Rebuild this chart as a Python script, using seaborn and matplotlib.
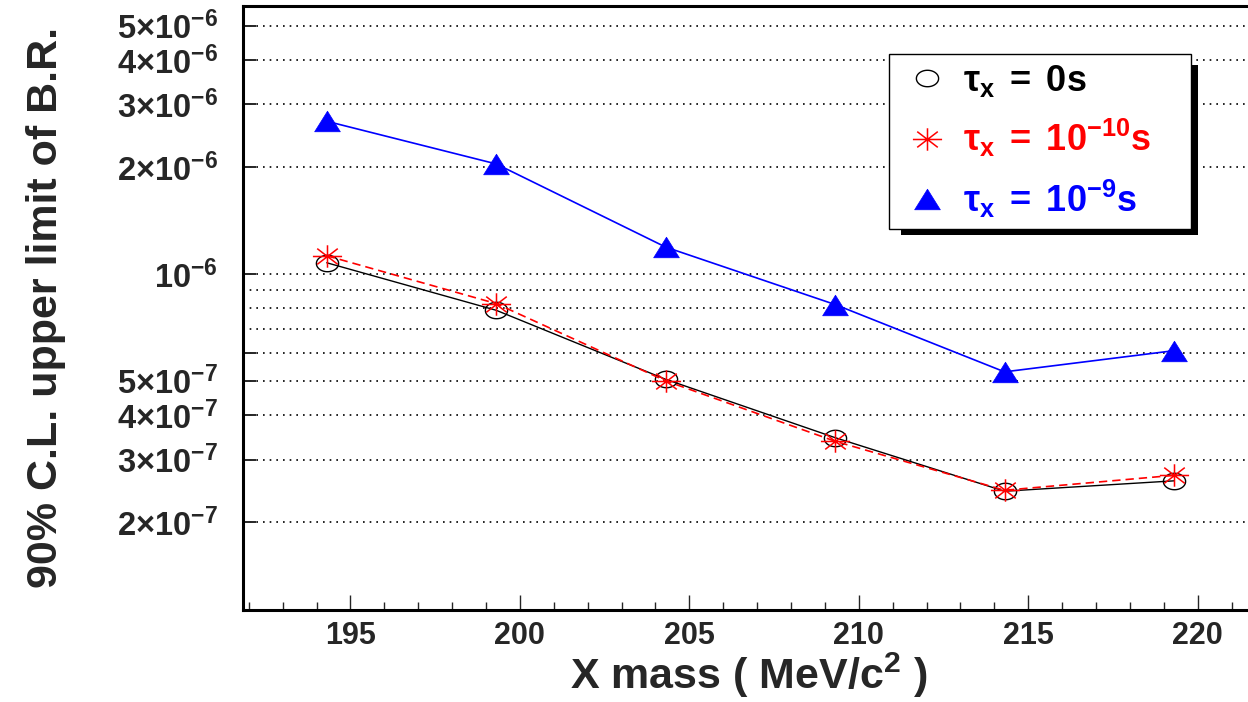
import numpy as np
import pandas as pd
import seaborn as sns
import matplotlib
matplotlib.use("Agg")
import matplotlib.pyplot as plt
from matplotlib.path import Path
from matplotlib.lines import Line2D
from matplotlib.patches import Rectangle
from matplotlib.transforms import IdentityTransform
from matplotlib.ticker import FixedLocator, FixedFormatter, NullFormatter

# ---------------- data ----------------
mass = [194.3, 199.3, 204.3, 209.3, 214.3, 219.3]
limit_tau0 = [1.075e-6, 7.9e-7, 5.05e-7, 3.46e-7, 2.445e-7, 2.615e-7]
limit_tau1e10 = [1.125e-6, 8.25e-7, 5.0e-7, 3.38e-7, 2.46e-7, 2.71e-7]
limit_tau1e9 = [2.69e-6, 2.04e-6, 1.19e-6, 8.2e-7, 5.3e-7, 6.08e-7]
series_labels = [r"$\tau_{x}\;=\;0s$", r"$\tau_{x}\;=\;10^{-10}s$", r"$\tau_{x}\;=\;10^{-9}s$"]
series_colors = ["black", "red", "blue"]

ytick_values = [2e-7, 3e-7, 4e-7, 5e-7, 6e-7, 1e-6, 2e-6, 3e-6, 4e-6, 5e-6]
ytick_labels = [r"$2{\times}10^{-7}$", r"$3{\times}10^{-7}$", r"$4{\times}10^{-7}$",
                r"$5{\times}10^{-7}$", "", r"$10^{-6}$", r"$2{\times}10^{-6}$",
                r"$3{\times}10^{-6}$", r"$4{\times}10^{-6}$", r"$5{\times}10^{-6}$"]
yminor_values = [7e-7, 8e-7, 9e-7]
xtick_values = [195, 200, 205, 210, 215, 220]
xminor_values = [192, 193, 194, 196, 197, 198, 199, 201, 202, 203, 204, 206, 207, 208, 209,
                 211, 212, 213, 214, 216, 217, 218, 219, 221]

# ---------------- style ----------------
sns.set_style("ticks")
plt.rcParams["font.family"] = ["Liberation Sans", "DejaVu Sans"]
plt.rcParams["font.weight"] = "bold"
plt.rcParams["mathtext.fontset"] = "custom"
plt.rcParams["mathtext.rm"] = "Liberation Sans:bold"
plt.rcParams["mathtext.it"] = "Liberation Sans:bold"
plt.rcParams["mathtext.bf"] = "Liberation Sans:bold"
plt.rcParams["mathtext.sf"] = "Liberation Sans:bold"

W, H = 1248, 702
fig = plt.figure(figsize=(W / 100, H / 100), dpi=100)
fig.patch.set_facecolor("white")
left_px, right_px, top_px, bottom_px = 243.3, 1248, 5.7, 610
ax = fig.add_axes([left_px / W, 1 - bottom_px / H, (right_px - left_px) / W, (bottom_px - top_px) / H])
ax.set_facecolor("white")

# custom markers (the reference is horizontally stretched)
t = np.linspace(0, 2 * np.pi, 73)
ellipse = Path(np.c_[np.cos(t), 0.74 * np.sin(t)])
ast_v = [(-1, 0), (1, 0), (0, -0.77), (0, 0.77), (-0.705, -0.54), (0.705, 0.54), (-0.705, 0.54), (0.705, -0.54)]
ast_c = [Path.MOVETO, Path.LINETO] * 4
asterisk = Path(ast_v, ast_c)
tri = Path([(0, 0.8), (-1, -0.8), (1, -0.8), (0, 0.8)], closed=True)

marker_kw = [
    dict(marker=ellipse, markersize=16, mfc="none", mec="black", mew=1.0),
    dict(marker=asterisk, markersize=21, mfc="none", mec="red", mew=1.1),
    dict(marker=tri, markersize=18.5, mfc="blue", mec="blue", mew=0.5),
]

df = pd.DataFrame({"mass": mass, "tau0": limit_tau0, "tau1e10": limit_tau1e10, "tau1e9": limit_tau1e9})

sns.lineplot(data=df, x="mass", y="tau0", ax=ax, color="black", lw=1.0, zorder=3, **marker_kw[0])
sns.lineplot(data=df, x="mass", y="tau1e10", ax=ax, color="red", lw=1.2, ls=(0, (5, 3)), zorder=4, **marker_kw[1])
sns.lineplot(data=df, x="mass", y="tau1e9", ax=ax, color="blue", lw=1.2, zorder=4, **marker_kw[2])

ax.set_yscale("log")
ax.set_xlim(191.837, 221.484)
ax.set_ylim(1.132e-7, 5.69e-6)

ax.yaxis.set_major_locator(FixedLocator(ytick_values))
ax.yaxis.set_major_formatter(FixedFormatter(ytick_labels))
ax.yaxis.set_minor_locator(FixedLocator(yminor_values))
ax.yaxis.set_minor_formatter(NullFormatter())
ax.xaxis.set_major_locator(FixedLocator(xtick_values))
ax.xaxis.set_minor_locator(FixedLocator(xminor_values))

ax.tick_params(axis="y", which="major", direction="in", length=9.4, width=1.4, labelsize=23.5, pad=18,
               left=True, right=False)
ax.tick_params(axis="y", which="minor", length=0)
ax.tick_params(axis="x", which="major", direction="in", length=10.8, width=1.0, labelsize=22, pad=8,
               bottom=True, top=False)
ax.tick_params(axis="x", which="minor", direction="in", length=5.8, width=1.0, bottom=True, top=False)

ax.yaxis.grid(True, which="both", color="black", lw=1.2, ls=(0, (1, 3)))
ax.xaxis.grid(False)
ax.set_axisbelow(True)

for s in ["left", "bottom", "top"]:
    ax.spines[s].set_linewidth(2.2)
    ax.spines[s].set_color("black")
ax.spines["right"].set_visible(False)

ax.set_xlabel(r"X mass ( MeV/c$^{2}$ )", fontsize=31, fontweight="bold", va="bottom")
ax.xaxis.set_label_coords(0.5033, (bottom_px - 700.5) / (bottom_px - top_px))
ax.set_ylabel("90% C.L. upper limit of B.R.", fontsize=31, fontweight="bold")
ax.yaxis.set_label_coords(-0.1765, 0.5006)

handles = [Line2D([], [], ls="none", **mk) for mk in marker_kw]
leg = ax.legend(handles, series_labels, loc="upper left",
                bbox_to_anchor=(889 / W, 1 - 227 / H, 302 / W, 173 / H), bbox_transform=fig.transFigure,
                mode="expand", borderaxespad=0, fancybox=False, frameon=True, framealpha=1,
                edgecolor="black", fontsize=26, handlelength=1.6, handletextpad=0.2,
                borderpad=0.25, labelspacing=0.5)
leg.get_frame().set_linewidth(1.0)
leg.set_zorder(6)
for txt, c in zip(leg.get_texts(), series_colors):
    txt.set_color(c)

fig.canvas.draw()
bb = leg.get_frame().get_window_extent()
shadow = Rectangle((bb.x0 + 12, bb.y0 - 6), bb.width - 5, bb.height - 5, transform=IdentityTransform(),
                   facecolor="black", edgecolor="none", zorder=5.5, clip_on=False)
ax.add_patch(shadow)

fig.savefig("out.png", dpi=100)
